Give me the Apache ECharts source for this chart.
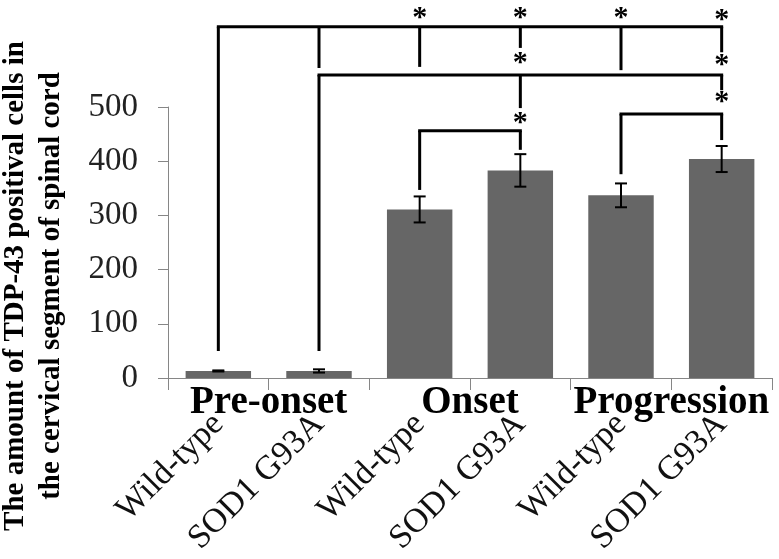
<!DOCTYPE html>
<html>
<head>
<meta charset="utf-8">
<script src="https://cdn.jsdelivr.net/npm/echarts@6/dist/echarts.min.js"></script>
<style>html,body{margin:0;padding:0;background:#fff}#c{width:779px;height:559px}</style>
</head>
<body>
<div id="c"></div>
<script>
const categories = ['Wild-type', 'SOD1 G93A', 'Wild-type', 'SOD1 G93A', 'Wild-type', 'SOD1 G93A'];
const groups = ['Pre-onset', 'Onset', 'Progression'];
const means = [13, 13, 311, 383, 337, 404];
const errors = [1, 3, 24, 30, 22, 24];
const yTicks = [0, 100, 200, 300, 400, 500];
// significance annotations in data units: [category index, value]
const brackets = [
  {level: 648, drops: [[0, 50], [1, 572], [2, 574], [3, 609], [4, 568], [5, 601]]},
  {level: 559, drops: [[1, 50], [3, 498], [5, 531]]},
  {level: 456, drops: [[2, 347], [3, 421]]},
  {level: 487, drops: [[4, 376], [5, 439]]}
];
const stars = [[2, 664], [3, 664], [4, 664], [5, 660], [3, 580], [5, 577], [3, 470], [5, 508]];

const serif = '"Liberation Serif", "Times New Roman", serif';
const chart = echarts.init(document.getElementById('c'));

const option = {
  animation: false,
  backgroundColor: '#fff',
  grid: {left: 168, right: 7, top: 107, bottom: 181, containLabel: false},
  xAxis: [
    {
      type: 'category', data: categories, position: 'bottom',
      axisLine: {lineStyle: {color: '#868686', width: 1}},
      axisTick: {show: true, length: 12, lineStyle: {color: '#868686'}},
      axisLabel: {rotate: 45, margin: 41, interval: 0, color: '#111', fontFamily: serif, fontSize: 34}
    },
    {
      type: 'category', data: groups, position: 'bottom', gridIndex: 0,
      axisLine: {show: false}, axisTick: {show: false},
      axisLabel: {margin: 5, interval: 0, color: '#000', fontFamily: serif, fontSize: 39, fontWeight: 'bold'}
    }
  ],
  yAxis: {
    type: 'value', min: 0, max: 500, interval: 100,
    axisLine: {show: true, lineStyle: {color: '#868686'}},
    axisTick: {show: true, length: 10, lineStyle: {color: '#868686'}},
    splitLine: {show: false},
    axisLabel: {margin: 30, color: '#222', fontFamily: serif, fontSize: 33,
      formatter: v => yTicks.indexOf(v) >= 0 ? String(v) : ''}
  },
  graphic: [{
    type: 'text', x: 34, y: 286, rotation: Math.PI / 2,
    style: {
      text: 'The amount of TDP-43 positival cells in\nthe cervical segment of spinal cord',
      font: 'bold 29px ' + serif, fill: '#000', align: 'center', verticalAlign: 'middle', lineHeight: 36
    }
  }],
  series: [
    {
      type: 'bar', data: means, barWidth: '65%', xAxisIndex: 0,
      itemStyle: {color: '#666666'}
    },
    {
      type: 'custom', xAxisIndex: 0, z: 5,
      data: means.map((m, i) => [i, m - errors[i], m + errors[i]]),
      renderItem: function (params, api) {
        const lo = api.coord([api.value(0), api.value(1)]);
        const hi = api.coord([api.value(0), api.value(2)]);
        const w = 6;
        const st = {stroke: '#000', lineWidth: 2};
        return {type: 'group', children: [
          {type: 'line', shape: {x1: hi[0], y1: hi[1], x2: lo[0], y2: lo[1]}, style: st},
          {type: 'line', shape: {x1: hi[0] - w, y1: hi[1], x2: hi[0] + w, y2: hi[1]}, style: st},
          {type: 'line', shape: {x1: lo[0] - w, y1: lo[1], x2: lo[0] + w, y2: lo[1]}, style: st}
        ]};
      }
    },
    {
      type: 'custom', xAxisIndex: 0, z: 6, clip: false,
      data: brackets.map((b, i) => [i]),
      renderItem: function (params, api) {
        const b = brackets[params.dataIndex];
        const st = {stroke: '#000', lineWidth: 3};
        const children = [];
        const first = b.drops[0][0], last = b.drops[b.drops.length - 1][0];
        const p1 = api.coord([first, b.level]);
        const p2 = api.coord([last, b.level]);
        children.push({type: 'line', shape: {x1: p1[0] - 1.5, y1: p1[1], x2: p2[0] + 1.5, y2: p2[1]}, style: st});
        b.drops.forEach(d => {
          const a = api.coord([d[0], b.level]);
          const e = api.coord([d[0], d[1]]);
          children.push({type: 'line', shape: {x1: a[0], y1: a[1], x2: e[0], y2: e[1]}, style: st});
        });
        return {type: 'group', children: children};
      }
    },
    {
      type: 'custom', xAxisIndex: 0, z: 7, clip: false,
      data: stars,
      renderItem: function (params, api) {
        const p = api.coord([api.value(0), api.value(1)]);
        return {type: 'text', x: p[0], y: p[1],
          style: {text: '*', font: 'bold 30px ' + serif, fill: '#000', align: 'center', verticalAlign: 'middle'}};
      }
    }
  ]
};
chart.setOption(option);
</script>
</body>
</html>
